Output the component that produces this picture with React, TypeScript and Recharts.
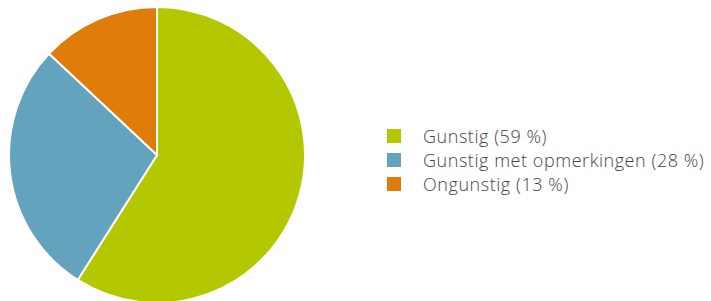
import React from "react";
import { PieChart, Pie, Cell, Legend } from "recharts";

const categories = ["Gunstig (59 %)", "Gunstig met opmerkingen (28 %)", "Ongunstig (13 %)"];
const values = [59, 28, 13];
const colors = ["#b3c800", "#63a3be", "#e07c0a"];

const data = categories.map((name, i) => ({ name, value: values[i] }));

const renderLegend = (props: any) => {
  const { payload } = props;
  return (
    <div style={{ fontFamily: "Open Sans", fontSize: 18, fontWeight: 300, letterSpacing: 0.55, color: "#444" }}>
      {payload.map((entry: any, i: number) => (
        <div key={i} style={{ display: "flex", alignItems: "center", height: 24 }}>
          <span style={{ display: "inline-block", width: 14, height: 14, background: entry.color, marginRight: 22, flexShrink: 0 }} />
          <span style={{ whiteSpace: "nowrap" }}>{entry.value}</span>
        </div>
      ))}
    </div>
  );
};

export default function App() {
  return (
    <div style={{ position: "absolute", left: 0, top: 0, width: 711, height: 301, background: "#fff" }}>
      <PieChart width={711} height={301} margin={{ top: 0, right: 0, bottom: 0, left: 0 }}>
        <Pie
          data={data}
          dataKey="value"
          nameKey="name"
          cx={157}
          cy={155}
          outerRadius={148}
          startAngle={90}
          endAngle={-270}
          stroke="#fff"
          strokeWidth={2}
          isAnimationActive={false}
        >
          {data.map((d, i) => (
            <Cell key={d.name} fill={colors[i]} />
          ))}
        </Pie>
        <Legend
          layout="vertical"
          content={renderLegend}
          wrapperStyle={{ position: "absolute", left: 387, top: 124, width: 324 }}
        />
      </PieChart>
    </div>
  );
}
